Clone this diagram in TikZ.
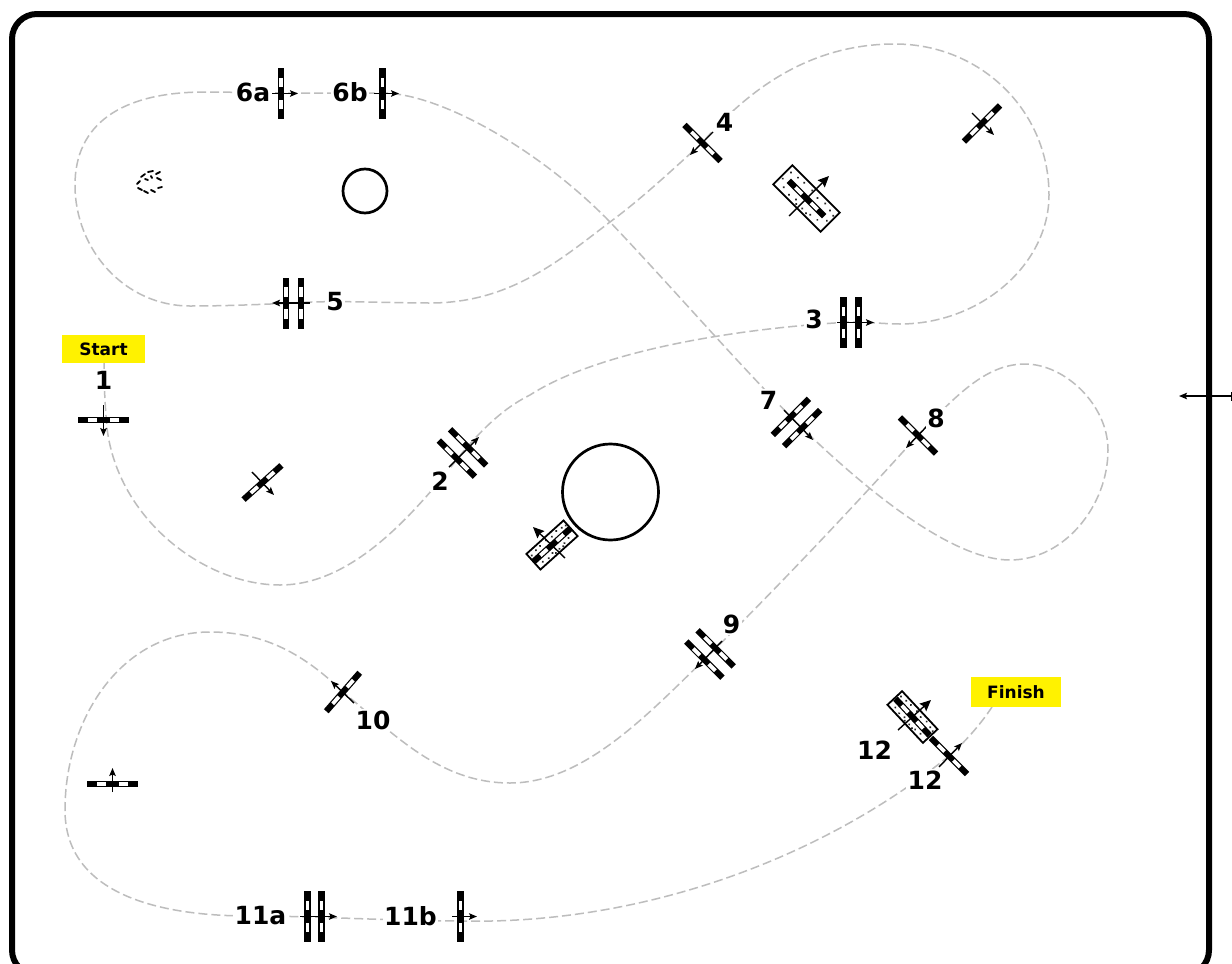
\documentclass[tikz,border=0pt]{standalone}
\usepackage{fontspec}
\setmainfont{DejaVu Sans}
\usetikzlibrary{arrows.meta}
\definecolor{trackgray}{HTML}{BDBDBD}
\tikzset{
  trackline/.style={draw=trackgray,line width=1.5pt,dash pattern=on 9pt off 4pt},
  gatearrow/.style={line width=1.4pt,-{Stealth[length=8pt,width=6.5pt,inset=1.5pt]}},
  bigarrow/.style={line width=1.4pt,-{Stealth[length=11pt,width=10pt,inset=1.5pt]}},
  numlabel/.style={font=\bfseries\fontsize{25}{25}\selectfont,fill=white,inner sep=1.5pt,text=black},
  flaglabel/.style={font=\bfseries\fontsize{17}{17}\selectfont,fill=yellow,inner sep=0pt,text=black},
  ringshape/.style={draw=black,line width=2.7pt,fill=white}
}
% one gate bar, drawn along local x
\newcommand{\gatebar}[2]{%
  \fill[black] (-#2,#1-3.1) rectangle (#2,#1+3.1);
  \fill[white] (-15.7,#1-1.9) rectangle (-6.3,#1+1.9);
  \fill[white] (6.3,#1-1.9) rectangle (15.7,#1+1.9);
}
% x y angle  tailx taily tipx tipy
\newcommand{\singlegate}[7]{%
  \begin{scope}[shift={(#1,#2)},rotate=#3]\gatebar{0}{25.5}\end{scope}
  \draw[gatearrow] (#4,#5) -- (#6,#7);
}
\newcommand{\doublegate}[8]{%
  \begin{scope}[shift={(#1,#2)},rotate=#3]\gatebar{-#4}{25.5}\gatebar{#4}{25.5}\end{scope}
  \draw[gatearrow] (#5,#6) -- (#7,#8);
}
% x y angle halflen halfwid ; then tail and tip
\newcommand{\matgate}[9]{%
  \begin{scope}[shift={(#1,#2)},rotate=#3]
    \draw[line width=1.8pt,fill=white] (-#4,-#5) rectangle (#4,#5);
    \foreach \uu/\vv in {-.88/-.55,-.72/.6,-.62/-.65,-.45/.72,-.38/-.7,-.2/.6,-.05/-.72,.12/.75,.22/-.6,.42/.66,.5/-.72,.68/.55,.75/-.6,.9/.1,-.92/.2,.93/-.5,-.1/.82,.3/.8}
      \fill[black!85] ({\uu*#4},{\vv*#5}) circle[radius=1.2];
    \gatebar{0}{25}
  \end{scope}
  \draw[bigarrow] (#6,#7) -- (#8,#9);
}
\begin{document}
\begin{tikzpicture}[x=1pt,y=-1pt]
\useasboundingbox (0,0) rectangle (1232,964);
\clip (0,0) rectangle (1232,964);
\fill[white] (0,0) rectangle (1232,964);
\draw[line width=6pt,rounded corners=25pt] (12,14) rectangle (1209,975);

% track
\draw[trackline]
 (104,363) .. controls (104,385) and (105,405) .. (107,428)
 .. controls (118,520) and (205,585) .. (280,585)
 .. controls (350,585) and (410,520) .. (462,453)
 .. controls (490,420) and (510,405) .. (530,395)
 .. controls (600,350) and (740,328) .. (851,322)
 .. controls (870,322) and (885,324) .. (900,324)
 .. controls (980,324) and (1049,265) .. (1049,195)
 .. controls (1049,110) and (980,44) .. (895,44)
 .. controls (830,44) and (765,70) .. (702,143)
 .. controls (670,172) and (640,200) .. (610,222)
 .. controls (560,260) and (510,303) .. (430,303)
 .. controls (390,303) and (330,300) .. (293,303)
 .. controls (250,305) and (220,306) .. (190,306)
 .. controls (125,306) and (75,250) .. (75,185)
 .. controls (75,125) and (120,92) .. (205,92)
 .. controls (230,92) and (260,93) .. (281,93)
 .. controls (310,93) and (350,93) .. (382,93)
 .. controls (440,93) and (540,150) .. (610,222)
 .. controls (670,285) and (730,355) .. (796,422)
 .. controls (860,485) and (950,560) .. (1010,560)
 .. controls (1065,560) and (1108,505) .. (1108,450)
 .. controls (1108,405) and (1065,364) .. (1025,364)
 .. controls (985,364) and (955,397) .. (918,435)
 .. controls (880,478) and (790,575) .. (710,654)
 .. controls (650,712) and (585,783) .. (510,783)
 .. controls (440,783) and (395,735) .. (343,692)
 .. controls (305,655) and (265,632) .. (210,632)
 .. controls (120,632) and (65,720) .. (65,810)
 .. controls (65,890) and (150,916) .. (250,916)
 .. controls (320,916) and (390,921) .. (460,921)
 .. controls (640,925) and (820,860) .. (949,756)
 .. controls (965,742) and (980,725) .. (992,707);

% rings
\draw[ringshape] (365,191) circle[radius=22];
\draw[ringshape] (610.5,492) circle[radius=48];

% scrub patch
\begin{scope}[line width=1.8pt,line cap=round]
 \draw (141,177)--(145,174) (148,172)--(153,171) (156,174)--(160,172) (157,178)--(161,180);
 \draw (137,184)--(140,181) (145,179)--(148,180) (151,176)--(152,178) (138,188)--(142,190);
 \draw (144,191)--(148,193) (151,190)--(155,192) (158,188)--(162,187);
\end{scope}

% gates
\singlegate{103.5}{420}{0}{103.5}{405}{103.5}{436}
\doublegate{462.5}{453}{-45}{8}{449}{467}{479}{437}
\doublegate{851}{322.5}{90}{7.5}{837}{322.5}{874}{322.5}
\singlegate{702.5}{143}{-45}{713}{132}{690}{155}
\doublegate{293.5}{303}{90}{7.5}{310}{303}{272}{303}
\singlegate{281}{93.5}{90}{272}{93.5}{298}{93.5}
\singlegate{382.5}{93.5}{90}{374}{93.5}{399}{93.5}
\singlegate{982}{123.5}{45}{972}{113}{994}{135}
\matgate{806.5}{198.5}{-45}{33.5}{13.5}{789}{216}{829}{176}
\doublegate{796.5}{422.5}{45}{8}{784}{410}{813}{440}
\singlegate{918}{435.5}{-45}{929}{424}{906}{448}
\singlegate{262.5}{482.5}{42}{252}{472}{274}{495}
\matgate{552}{545}{42}{25}{10.5}{565}{558}{533}{527}
\matgate{912.5}{717}{-47}{26}{10}{898}{730}{931}{700}
\doublegate{710}{654}{-45}{8}{722}{641}{695}{669}
\singlegate{343}{692}{49}{354}{703}{331}{681}
\singlegate{112.5}{784}{0}{112.5}{792}{112.5}{768}
\doublegate{314.5}{916.5}{90}{7}{300}{916.5}{337}{916.5}
\singlegate{460.5}{916.5}{90}{452}{916.5}{477}{916.5}
\singlegate{949}{756}{-45}{939}{767}{962}{743}

% gate at the right edge, cut by the page
\coordinate (edgetail) at (1232,396);
\coordinate (edgetip) at (1179,396);
\draw[gatearrow] (edgetail) -- (edgetip);
\fill[black] (1230.6,392) rectangle (1232,400.5);
\draw[line width=6pt] (1209,300) -- (1209,500);

% labels
\node[flaglabel,minimum width=83pt,minimum height=28pt] (lblstart) at (103.5,349) {Start};
\node[flaglabel,minimum width=90pt,minimum height=30pt] (lblfinish) at (1016,692) {Finish};
\node[numlabel] (lbl1) at (103.5,380) {1};
\node[numlabel] (lbl2) at (440,481) {2};
\node[numlabel] (lbl3) at (814,319) {3};
\node[numlabel] (lbl4) at (724.5,122) {4};
\node[numlabel] (lbl5) at (335,302) {5};
\node[numlabel] (lbl6a) at (253,92) {6a};
\node[numlabel] (lbl6b) at (350,92) {6b};
\node[numlabel] (lbl7) at (768.5,400) {7};
\node[numlabel] (lbl8) at (936,418) {8};
\node[numlabel] (lbl9) at (731.5,624) {9};
\node[numlabel] (lbl10) at (373,720) {10};
\node[numlabel] (lbl11a) at (260.5,916) {11a};
\node[numlabel] (lbl11b) at (410.5,916) {11b};
\node[numlabel] (lbl12a) at (874.5,750) {12};
\node[numlabel] (lbl12b) at (925,780) {12};
\end{tikzpicture}
\end{document}
